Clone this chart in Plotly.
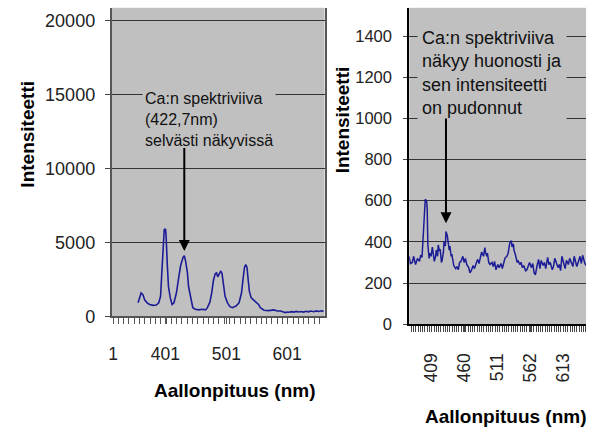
import plotly.graph_objects as go

# ---------------- data ----------------
wl_left = [356, 359, 361, 364, 367, 371, 375, 381, 386, 390,
           393, 395, 397, 399, 401, 402, 404, 406, 409, 412,
           415, 419, 423, 426, 430, 432, 434, 437, 439, 443,
           446, 450, 456, 461, 467, 470, 474, 477, 480, 483,
           485, 487, 490, 492, 494, 497, 499, 503, 507, 511,
           517, 522, 526, 529, 531, 533, 535, 537, 539, 542,
           545, 549, 554, 557, 563, 571, 579, 585, 590, 594,
           598, 601, 604, 608, 612, 616, 620, 624, 628, 632,
           636, 640, 645, 649, 653, 657, 661]
int_left = [920, 1360, 1580, 1470, 1100, 920, 810, 745, 770, 920,
            1360, 2900, 4650, 5860, 5920, 5530, 3550, 2020, 1250, 810,
            920, 1580, 2680, 3440, 3990, 4100, 3770, 3000, 2020, 1140,
            590, 480, 440, 480, 440, 590, 965, 1580, 2460, 2900,
            2940, 2680, 2900, 3070, 2900, 2130, 1360, 920, 660, 590,
            700, 920, 1580, 2680, 3330, 3510, 3330, 2460, 1690, 1250,
            1140, 965, 810, 590, 420, 395, 440, 370, 370, 310,
            260, 300, 280, 320, 290, 340, 300, 330, 290, 350,
            310, 360, 320, 370, 330, 380, 340]

wl_right = [375, 377, 380, 382, 385, 388, 391, 393, 395, 398,
            400, 402, 403, 404, 406, 407, 409, 411, 413, 414,
            416, 417, 419, 420, 422, 423, 425, 426, 428, 429,
            431, 432, 434, 435, 437, 438, 440, 441, 443, 444,
            447, 449, 451, 453, 455, 458, 460, 462, 464, 467,
            469, 471, 474, 476, 479, 481, 483, 485, 487, 490,
            492, 493, 495, 496, 498, 500, 503, 505, 507, 509,
            512, 514, 517, 519, 521, 523, 526, 528, 530, 531,
            533, 534, 536, 537, 539, 540, 542, 543, 546, 548,
            550, 552, 555, 557, 559, 561, 564, 566, 568, 570,
            573, 575, 577, 579, 582, 584, 586, 589, 591, 593,
            596, 598, 600, 602, 605, 607, 609, 611, 614, 616,
            618, 621, 623, 625, 628, 630, 632, 634, 637, 639,
            641, 643, 646, 648]
int_right = [330, 295, 300, 330, 290, 320, 305, 335, 325, 510,
             607, 600, 560, 385, 320, 345, 330, 375, 340, 305,
             330, 360, 330, 385, 355, 365, 300, 310, 350, 400,
             380, 450, 430, 405, 360, 380, 330, 340, 300, 285,
             270, 280, 265, 300, 305, 330, 300, 320, 290, 275,
             250, 260, 285, 270, 300, 315, 295, 320, 350, 330,
             372, 350, 330, 345, 300, 290, 300, 280, 305, 265,
             290, 275, 295, 270, 300, 320, 330, 345, 385, 400,
             405, 375, 390, 360, 340, 330, 300, 310, 290, 300,
             275, 285, 260, 265, 280, 300, 275, 295, 250, 240,
             290, 315, 270, 310, 285, 300, 270, 325, 290, 300,
             265, 280, 320, 300, 275, 290, 260, 330, 285, 270,
             310, 290, 320, 300, 280, 330, 300, 280, 310, 330,
             295, 335, 300, 285]

left_tickvals = [315, 401, 501, 601]
left_ticktext = ["1", "401", "501", "601"]
right_tickvals = [409, 460, 511, 562, 613]
right_ticktext = ["409", "460", "511", "562", "613"]

# Ca line annotation positions (wavelength, intensity)
ca_wl = 432
left_arrow_tip, left_arrow_tail = 4420, 11485
right_arrow_tip, right_arrow_tail = 490, 1006

left_note = "Ca:n spektriviiva<br>(422,7nm)<br>selvästi näkyvissä"
right_note = "Ca:n spektriviiva<br>näkyy huonosti ja<br>sen intensiteetti<br>on pudonnut"
y_title = "Intensiteetti"
x_title = "Aallonpituus (nm)"

# ---------------- figure ----------------
W, H = 596, 427
FONT = "Liberation Sans, Arial, sans-serif"
LINE = "#1c1c96"
GRID = "#333333"

fig = go.Figure()
fig.add_trace(go.Scatter(x=wl_left, y=int_left, mode="lines",
                         line=dict(color=LINE, width=1.6),
                         xaxis="x", yaxis="y", showlegend=False))
fig.add_trace(go.Scatter(x=wl_right, y=int_right, mode="lines",
                         line=dict(color=LINE, width=1.5),
                         xaxis="x2", yaxis="y2", showlegend=False))

def px(xp):
    return xp / W

def py(yp):
    return 1 - yp / H

fig.update_layout(
    width=W, height=H,
    margin=dict(l=0, r=0, t=0, b=0),
    paper_bgcolor="white",
    plot_bgcolor="#c0c0c0",
    font=dict(family=FONT, color="#222"),
    showlegend=False,
    xaxis=dict(
        domain=[px(108.5), px(322.7)], range=[312.8, 662.5], anchor="y",
        tickmode="array", tickvals=left_tickvals, ticktext=left_ticktext,
        ticks="outside", ticklen=6, tickcolor="#555", tickwidth=1,
        minor=dict(ticks="outside", ticklen=6, tick0=315, dtick=8.7,
                   tickcolor="#555", tickwidth=1, showgrid=False),
        showline=True, linecolor="#555", linewidth=1.5,
        showgrid=False, zeroline=False,
        tickfont=dict(size=17.5, color="#222"), ticklabelstandoff=15,
    ),
    yaxis=dict(
        domain=[py(324), py(8)], range=[0, 20860], anchor="x",
        tickmode="linear", tick0=0, dtick=5000, tickformat="d",
        ticks="outside", ticklen=5, tickcolor="#444",
        showline=True, linecolor="#555", linewidth=2, mirror=True,
        showgrid=True, gridcolor=GRID, gridwidth=1, zeroline=False,
        tickfont=dict(size=18, color="#222"), ticklabelstandoff=6,
    ),
    xaxis2=dict(
        domain=[px(408), px(586)], range=[375.3, 648.3], anchor="y2",
        tickmode="array", tickvals=right_tickvals, ticktext=right_ticktext,
        tickangle=-90,
        ticks="outside", ticklen=6, tickcolor="#444", tickwidth=1,
        minor=dict(ticks="outside", ticklen=6, tick0=375, dtick=3.5,
                   tickcolor="#444", tickwidth=1, showgrid=False),
        showline=True, linecolor="black", linewidth=2,
        showgrid=False, zeroline=False,
        tickfont=dict(size=17.5, color="#222"), ticklabelstandoff=14,
    ),
    yaxis2=dict(
        domain=[py(332), py(8)], range=[0, 1537], anchor="x2",
        tickmode="linear", tick0=0, dtick=200,
        ticks="outside", ticklen=4, tickcolor="#444",
        showline=True, linecolor="black", linewidth=2,
        showgrid=True, gridcolor=GRID, gridwidth=1, zeroline=False,
        tickfont=dict(size=16.5, color="#222"), ticklabelstandoff=8,
    ),
)

annotations = [
    # notes
    dict(x=362, y=15510, xref="x", yref="y", text=left_note, showarrow=False,
         xanchor="left", yanchor="top", align="left",
         bgcolor="#c0c0c0", borderpad=2,
         font=dict(size=16, color="#111", family=FONT)),
    dict(x=387, y=1462, xref="x2", yref="y2", text=right_note, showarrow=False,
         xanchor="left", yanchor="top", align="left",
         bgcolor="#c0c0c0", borderpad=4,
         font=dict(size=18, color="#111", family=FONT)),
    # arrows
    dict(x=ca_wl, y=left_arrow_tip, ax=ca_wl, ay=left_arrow_tail,
         xref="x", yref="y", axref="x", ayref="y", text="",
         showarrow=True, arrowhead=2, arrowsize=1.1, arrowwidth=2,
         arrowcolor="black", standoff=0),
    dict(x=ca_wl, y=right_arrow_tip, ax=ca_wl, ay=right_arrow_tail,
         xref="x2", yref="y2", axref="x2", ayref="y2", text="",
         showarrow=True, arrowhead=2, arrowsize=1.1, arrowwidth=2,
         arrowcolor="black", standoff=0),
    # axis titles
    dict(x=px(24), y=py(137), xref="paper", yref="paper", text=f"<b>{y_title}</b>",
         textangle=-90, showarrow=False, xanchor="center", yanchor="middle",
         font=dict(size=19, color="black", family=FONT)),
    dict(x=px(341), y=py(122.5), xref="paper", yref="paper", text=f"<b>{y_title}</b>",
         textangle=-90, showarrow=False, xanchor="center", yanchor="middle",
         font=dict(size=19, color="black", family=FONT)),
    dict(x=px(232), y=py(400), xref="paper", yref="paper", text=f"<b>{x_title}</b>",
         showarrow=False, xanchor="center", yanchor="middle",
         font=dict(size=19, color="black", family=FONT)),
    dict(x=px(504.5), y=py(426), xref="paper", yref="paper", text=f"<b>{x_title}</b>",
         showarrow=False, xanchor="center", yanchor="middle",
         font=dict(size=19, color="black", family=FONT)),
]
fig.update_layout(annotations=annotations)

fig.write_html("out.html")
